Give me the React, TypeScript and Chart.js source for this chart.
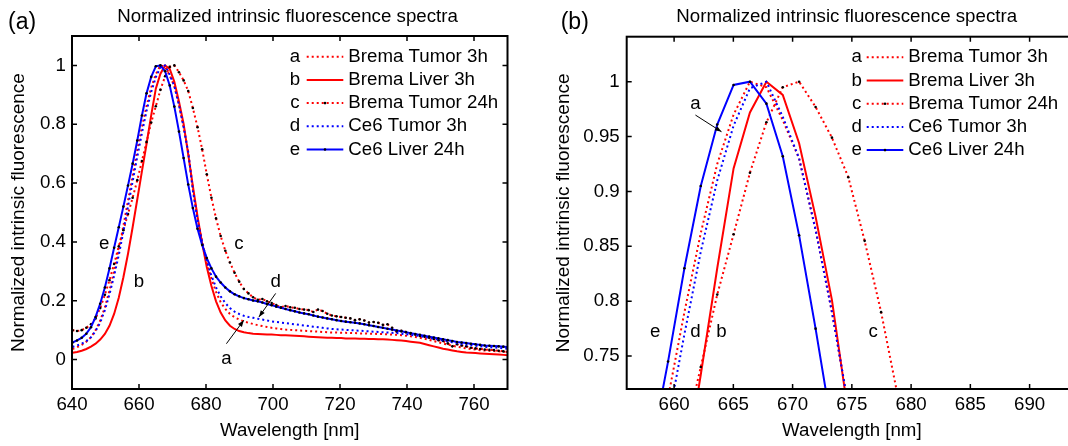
import React, { useEffect, useRef } from 'react';
import { Chart, registerables } from 'chart.js';

Chart.register(...registerables);

const FONT = '"Liberation Sans", Arial, Helvetica, sans-serif';
const FS = 18.7;

// ---------------- data ----------------
const wavelengths = [
  640.13, 641.51, 642.89, 644.28, 645.66, 647.04, 648.42, 649.81, 651.19, 652.57,
  653.96, 655.34, 656.72, 658.10, 659.49, 660.87, 662.25, 663.64, 665.02, 666.40,
  667.79, 669.17, 670.55, 671.94, 673.32, 674.70, 676.08, 677.47, 678.85, 680.23,
  681.62, 683.00, 684.38, 685.77, 687.15, 688.53, 689.91, 691.30, 692.68, 694.06,
  695.45, 696.83, 698.21, 699.60, 700.98, 702.36, 703.74, 705.13, 706.51, 707.89,
  709.28, 710.66, 712.04, 713.43, 714.81, 716.19, 717.57, 718.96, 720.34, 721.72,
  723.11, 724.49, 725.87, 727.26, 728.64, 730.02, 731.40, 732.79, 734.17, 735.55,
  736.94, 738.32, 739.70, 741.09, 742.47, 743.85, 745.23, 746.62, 748.00, 749.38,
  750.77, 752.15, 753.53, 754.92, 756.30, 757.68, 759.06, 760.45, 761.83, 763.21,
  764.60, 765.98, 767.36, 768.75, 770.13,
];

const bremaTumor3h = [
  0.036, 0.042, 0.050, 0.061, 0.076, 0.100, 0.132, 0.178, 0.235, 0.300,
  0.375, 0.455, 0.540, 0.625, 0.712, 0.790, 0.862, 0.925, 0.970, 1.000,
  0.995, 0.965, 0.930, 0.865, 0.790, 0.705, 0.580, 0.480, 0.400, 0.330,
  0.275, 0.230, 0.195, 0.172, 0.155, 0.144, 0.136, 0.130, 0.125, 0.121,
  0.117, 0.114, 0.111, 0.108, 0.106, 0.104, 0.102, 0.101, 0.100, 0.099,
  0.098, 0.097, 0.096, 0.095, 0.094, 0.093, 0.092, 0.092, 0.091, 0.091,
  0.090, 0.090, 0.089, 0.089, 0.088, 0.088, 0.087, 0.087, 0.086, 0.085,
  0.084, 0.083, 0.081, 0.079, 0.077, 0.074, 0.071, 0.067, 0.063, 0.059,
  0.055, 0.051, 0.047, 0.044, 0.041, 0.038, 0.036, 0.034, 0.032, 0.031,
  0.030, 0.029, 0.028, 0.027, 0.026,
];

const bremaLiver3h = [
  0.023, 0.026, 0.030, 0.036, 0.044, 0.054, 0.068, 0.087, 0.115, 0.155,
  0.210, 0.280, 0.360, 0.450, 0.545, 0.640, 0.733, 0.830, 0.921, 0.972,
  1.000, 0.988, 0.944, 0.877, 0.801, 0.697, 0.590, 0.487, 0.395, 0.315,
  0.250, 0.198, 0.160, 0.133, 0.115, 0.104, 0.097, 0.093, 0.090, 0.088,
  0.087, 0.086, 0.085, 0.085, 0.084, 0.083, 0.083, 0.082, 0.081, 0.080,
  0.079, 0.078, 0.077, 0.076, 0.075, 0.074, 0.074, 0.073, 0.073, 0.072,
  0.072, 0.072, 0.071, 0.071, 0.070, 0.070, 0.069, 0.069, 0.068, 0.067,
  0.066, 0.065, 0.063, 0.061, 0.059, 0.057, 0.053, 0.049, 0.045, 0.041,
  0.037, 0.034, 0.031, 0.028, 0.026, 0.024, 0.023, 0.022, 0.021, 0.020,
  0.019, 0.018, 0.017, 0.016, 0.015,
];

const bremaTumor24h = [
  0.100, 0.097, 0.100, 0.108, 0.120, 0.140, 0.175, 0.220, 0.270, 0.325,
  0.385, 0.440, 0.495, 0.550, 0.610, 0.675, 0.740, 0.806, 0.861, 0.917,
  0.963, 0.995, 1.000, 0.977, 0.949, 0.913, 0.855, 0.790, 0.715, 0.630,
  0.550, 0.480, 0.420, 0.370, 0.330, 0.295, 0.265, 0.240, 0.225, 0.212,
  0.203, 0.206, 0.198, 0.192, 0.185, 0.178, 0.182, 0.178, 0.176, 0.172,
  0.170, 0.168, 0.162, 0.170, 0.165, 0.156, 0.150, 0.147, 0.145, 0.142,
  0.140, 0.134, 0.137, 0.133, 0.126, 0.128, 0.125, 0.118, 0.120, 0.108,
  0.095, 0.098, 0.094, 0.088, 0.085, 0.080, 0.078, 0.074, 0.070, 0.066,
  0.063, 0.055, 0.045, 0.052, 0.048, 0.045, 0.040, 0.038, 0.036, 0.034,
  0.033, 0.032, 0.030, 0.028, 0.026,
];

const ce6Tumor3h = [
  0.043, 0.048, 0.054, 0.063, 0.076, 0.097, 0.126, 0.168, 0.222, 0.285,
  0.355, 0.435, 0.520, 0.605, 0.690, 0.770, 0.845, 0.910, 0.960, 0.994,
  1.000, 0.968, 0.930, 0.865, 0.790, 0.705, 0.575, 0.475, 0.400, 0.335,
  0.285, 0.245, 0.215, 0.192, 0.175, 0.163, 0.155, 0.149, 0.145, 0.142,
  0.139, 0.136, 0.133, 0.130, 0.128, 0.126, 0.124, 0.122, 0.120, 0.118,
  0.116, 0.114, 0.112, 0.110, 0.108, 0.106, 0.104, 0.103, 0.102, 0.101,
  0.100, 0.099, 0.098, 0.097, 0.096, 0.095, 0.094, 0.093, 0.092, 0.091,
  0.090, 0.088, 0.086, 0.084, 0.082, 0.080, 0.077, 0.074, 0.071, 0.068,
  0.065, 0.062, 0.059, 0.056, 0.053, 0.051, 0.049, 0.047, 0.045, 0.043,
  0.042, 0.041, 0.040, 0.038, 0.037,
];

const ce6Liver24h = [
  0.058, 0.065, 0.074, 0.088, 0.110, 0.145, 0.190, 0.245, 0.310, 0.380,
  0.450, 0.520, 0.592, 0.666, 0.745, 0.830, 0.905, 0.961, 0.997, 1.000,
  0.980, 0.932, 0.860, 0.775, 0.685, 0.595, 0.515, 0.445, 0.390, 0.345,
  0.310, 0.282, 0.262, 0.245, 0.232, 0.222, 0.215, 0.209, 0.205, 0.201,
  0.198, 0.194, 0.189, 0.185, 0.180, 0.176, 0.172, 0.168, 0.164, 0.160,
  0.157, 0.154, 0.150, 0.146, 0.143, 0.140, 0.137, 0.134, 0.131, 0.129,
  0.127, 0.125, 0.123, 0.120, 0.117, 0.114, 0.111, 0.108, 0.105, 0.102,
  0.099, 0.096, 0.093, 0.090, 0.087, 0.084, 0.081, 0.078, 0.075, 0.072,
  0.069, 0.066, 0.063, 0.060, 0.058, 0.056, 0.054, 0.052, 0.050, 0.048,
  0.047, 0.046, 0.045, 0.044, 0.043,
];

const seriesLetters = ['a', 'b', 'c', 'd', 'e'];
const seriesNames = ['Brema Tumor 3h', 'Brema Liver 3h', 'Brema Tumor 24h', 'Ce6 Tumor 3h', 'Ce6 Liver 24h'];
const seriesValues = [bremaTumor3h, bremaLiver3h, bremaTumor24h, ce6Tumor3h, ce6Liver24h];

const xTicksA = [640, 660, 680, 700, 720, 740, 760];
const yTicksA = [0, 0.2, 0.4, 0.6, 0.8, 1];
const xTicksB = [660, 665, 670, 675, 680, 685, 690];
const yTicksB = [0.75, 0.8, 0.85, 0.9, 0.95, 1];

const chartTitle = 'Normalized intrinsic fluorescence spectra';
const xTitle = 'Wavelength [nm]';
const yTitle = 'Normalized intrinsic fluorescence';

// ---------------- styles ----------------
const RED = '#ff0000';
const BLUE = '#0000ff';
const DOT = [2, 3];
const seriesStyles = [
  { color: RED, dash: DOT, marker: false, order: 4 },
  { color: RED, dash: [] as number[], marker: false, order: 3 },
  { color: RED, dash: DOT, marker: true, order: 2 },
  { color: BLUE, dash: DOT, marker: false, order: 1 },
  { color: BLUE, dash: [] as number[], marker: true, order: 0 },
];

function buildDatasets() {
  return seriesValues.map((vals, i) => ({
    label: seriesNames[i],
    data: vals.map((y, j) => ({ x: wavelengths[j], y })),
    borderColor: seriesStyles[i].color,
    backgroundColor: seriesStyles[i].color,
    borderWidth: 2,
    borderDash: seriesStyles[i].dash,
    pointRadius: seriesStyles[i].marker ? 1.3 : 0,
    pointBackgroundColor: '#000',
    pointBorderColor: '#000',
    pointBorderWidth: 0,
    pointHoverRadius: 0,
    tension: 0,
    fill: false,
    order: seriesStyles[i].order,
  }));
}

const panelA = {
  left: 0,
  width: 540,
  xMin: 640,
  xMax: 770,
  yMin: -0.1,
  yMax: 1.1,
  xTicks: xTicksA,
  yTicks: yTicksA,
  yAxisWidth: 72,
  padTop: 36,
  padRight: 32.5,
  yTitlePad: 7.5,
  yTickPad: 6,
  titleDx: 215.5,
  panelLabel: '(a)',
  panelLabelX: 8,
  legend: { letterX: 295, lineX1: 306.7, lineX2: 343.3, textX: 348.3, y0: 56.7, dy: 23.2 },
  letters: [
    { t: 'e', x: 649.6, y: 0.395 },
    { t: 'b', x: 660.0, y: 0.264 },
    { t: 'c', x: 689.8, y: 0.395 },
    { t: 'd', x: 700.8, y: 0.264 },
    { t: 'a', x: 686.1, y: 0.003 },
  ],
  arrows: [
    { x1: 686.1, y1: 0.054, x2: 691.3, y2: 0.134 },
    { x1: 700.8, y1: 0.225, x2: 695.8, y2: 0.145 },
  ],
};

const panelB = {
  left: 540,
  width: 560,
  xMin: 656,
  xMax: 694,
  yMin: 0.72,
  yMax: 1.041,
  xTicks: xTicksB,
  yTicks: yTicksB,
  yAxisWidth: 86.7,
  padTop: 36.7,
  padRight: 23,
  yTitlePad: 11.9,
  yTickPad: 7,
  titleDx: 220,
  panelLabel: '(b)',
  panelLabelX: 20.7,
  legend: { letterX: 316.7, lineX1: 326.7, lineX2: 363.3, textX: 368.3, y0: 57.3, dy: 23.2 },
  letters: [
    { t: 'a', x: 661.8, y: 0.98 },
    { t: 'e', x: 658.4, y: 0.772 },
    { t: 'd', x: 661.8, y: 0.772 },
    { t: 'b', x: 664.0, y: 0.772 },
    { t: 'c', x: 676.8, y: 0.772 },
  ],
  arrows: [{ x1: 661.8, y1: 0.9696, x2: 664.0, y2: 0.9544 }],
};

type PanelCfg = typeof panelA;

const matlabPlugin = {
  id: 'matlab',
  afterDraw(chart: any, _args: any, opts: any) {
    const cfg: PanelCfg = opts.cfg;
    const { ctx, chartArea: ca } = chart;
    const xs = chart.scales.x;
    const ys = chart.scales.y;
    ctx.save();
    ctx.setLineDash([]);
    ctx.strokeStyle = '#000';
    ctx.fillStyle = '#000';

    // inward tick marks on all four sides
    ctx.lineWidth = 1.5;
    ctx.beginPath();
    const L = 5;
    cfg.xTicks.forEach((v) => {
      const p = xs.getPixelForValue(v);
      ctx.moveTo(p, ca.bottom);
      ctx.lineTo(p, ca.bottom - L);
      ctx.moveTo(p, ca.top);
      ctx.lineTo(p, ca.top + L);
    });
    cfg.yTicks.forEach((v) => {
      const p = ys.getPixelForValue(v);
      ctx.moveTo(ca.left, p);
      ctx.lineTo(ca.left + L, p);
      ctx.moveTo(ca.right, p);
      ctx.lineTo(ca.right - L, p);
    });
    ctx.stroke();

    // box
    ctx.lineWidth = 2;
    ctx.strokeRect(ca.left, ca.top, ca.right - ca.left, ca.bottom - ca.top);

    // title
    ctx.font = `${FS}px ${FONT}`;
    ctx.textAlign = 'center';
    ctx.textBaseline = 'alphabetic';
    ctx.fillText(chartTitle, ca.left + cfg.titleDx, 21.7);

    // panel label
    ctx.font = `23px ${FONT}`;
    ctx.textAlign = 'left';
    ctx.fillText(cfg.panelLabel, cfg.panelLabelX, 29);

    // legend
    const lg = cfg.legend;
    ctx.font = `${FS}px ${FONT}`;
    ctx.textBaseline = 'middle';
    seriesNames.forEach((name, i) => {
      const y = lg.y0 + lg.dy * i;
      ctx.textAlign = 'center';
      ctx.fillStyle = '#000';
      ctx.fillText(seriesLetters[i], lg.letterX, y);
      ctx.save();
      ctx.strokeStyle = seriesStyles[i].color;
      ctx.lineWidth = 2;
      ctx.setLineDash(seriesStyles[i].dash);
      ctx.beginPath();
      ctx.moveTo(lg.lineX1, y);
      ctx.lineTo(lg.lineX2, y);
      ctx.stroke();
      ctx.restore();
      if (seriesStyles[i].marker) {
        ctx.beginPath();
        ctx.arc((lg.lineX1 + lg.lineX2) / 2, y, 1.3, 0, Math.PI * 2);
        ctx.fill();
      }
      ctx.textAlign = 'left';
      ctx.fillText(name, lg.textX, y);
    });

    // curve annotations
    ctx.textAlign = 'center';
    ctx.textBaseline = 'middle';
    cfg.letters.forEach((l) => {
      ctx.fillText(l.t, xs.getPixelForValue(l.x), ys.getPixelForValue(l.y));
    });
    ctx.lineWidth = 1;
    cfg.arrows.forEach((a) => {
      const x1 = xs.getPixelForValue(a.x1);
      const y1 = ys.getPixelForValue(a.y1);
      const x2 = xs.getPixelForValue(a.x2);
      const y2 = ys.getPixelForValue(a.y2);
      ctx.beginPath();
      ctx.moveTo(x1, y1);
      ctx.lineTo(x2, y2);
      ctx.stroke();
      const ang = Math.atan2(y2 - y1, x2 - x1);
      const hl = 7;
      const hw = 0.35;
      ctx.beginPath();
      ctx.moveTo(x2, y2);
      ctx.lineTo(x2 - hl * Math.cos(ang - hw), y2 - hl * Math.sin(ang - hw));
      ctx.lineTo(x2 - hl * Math.cos(ang + hw), y2 - hl * Math.sin(ang + hw));
      ctx.closePath();
      ctx.fill();
    });
    ctx.restore();
  },
};

const fmt = (v: any) => String(Number(Number(v).toFixed(2)));

function Panel({ cfg }: { cfg: PanelCfg }) {
  const ref = useRef<HTMLCanvasElement>(null);
  useEffect(() => {
    const canvas = ref.current;
    if (!canvas) return;
    const chart = new Chart(canvas, {
      type: 'line',
      data: { datasets: buildDatasets() as any },
      plugins: [matlabPlugin as any],
      options: {
        animation: false,
        responsive: false,
        maintainAspectRatio: false,
        devicePixelRatio: 1,
        events: [],
        layout: { padding: { top: cfg.padTop, right: cfg.padRight, left: 0, bottom: 0 } },
        plugins: {
          legend: { display: false },
          tooltip: { enabled: false },
          title: { display: false },
          matlab: { cfg },
        } as any,
        scales: {
          x: {
            type: 'linear',
            min: cfg.xMin,
            max: cfg.xMax,
            grid: { display: false, drawTicks: false },
            border: { display: false },
            afterBuildTicks: (s: any) => {
              s.ticks = cfg.xTicks.map((v) => ({ value: v }));
            },
            afterFit: (s: any) => {
              s.height = 57;
            },
            ticks: {
              font: { size: FS, family: FONT },
              color: '#000',
              padding: 5,
              maxRotation: 0,
              autoSkip: false,
              callback: fmt,
            },
            title: {
              display: true,
              text: xTitle,
              font: { size: FS, family: FONT },
              color: '#000',
              padding: { top: 0, bottom: 4 },
            },
          },
          y: {
            type: 'linear',
            min: cfg.yMin,
            max: cfg.yMax,
            grid: { display: false, drawTicks: false },
            border: { display: false },
            afterBuildTicks: (s: any) => {
              s.ticks = cfg.yTicks.map((v) => ({ value: v }));
            },
            afterFit: (s: any) => {
              s.width = cfg.yAxisWidth;
            },
            ticks: {
              font: { size: FS, family: FONT },
              color: '#000',
              padding: cfg.yTickPad,
              autoSkip: false,
              callback: fmt,
            },
            title: {
              display: true,
              text: yTitle,
              font: { size: 19, family: FONT },
              color: '#000',
              padding: { top: cfg.yTitlePad, bottom: 0 },
            },
          },
        },
      } as any,
    });
    return () => chart.destroy();
  }, [cfg]);
  return (
    <canvas
      ref={ref}
      width={cfg.width}
      height={446}
      style={{ position: 'absolute', left: cfg.left, top: 0, width: cfg.width, height: 446 }}
    />
  );
}

export default function App() {
  return (
    <div
      style={{
        position: 'fixed',
        left: 0,
        top: 0,
        width: 1068,
        height: 446,
        overflow: 'hidden',
        background: '#fff',
      }}
    >
      <Panel cfg={panelA} />
      <Panel cfg={panelB} />
    </div>
  );
}
